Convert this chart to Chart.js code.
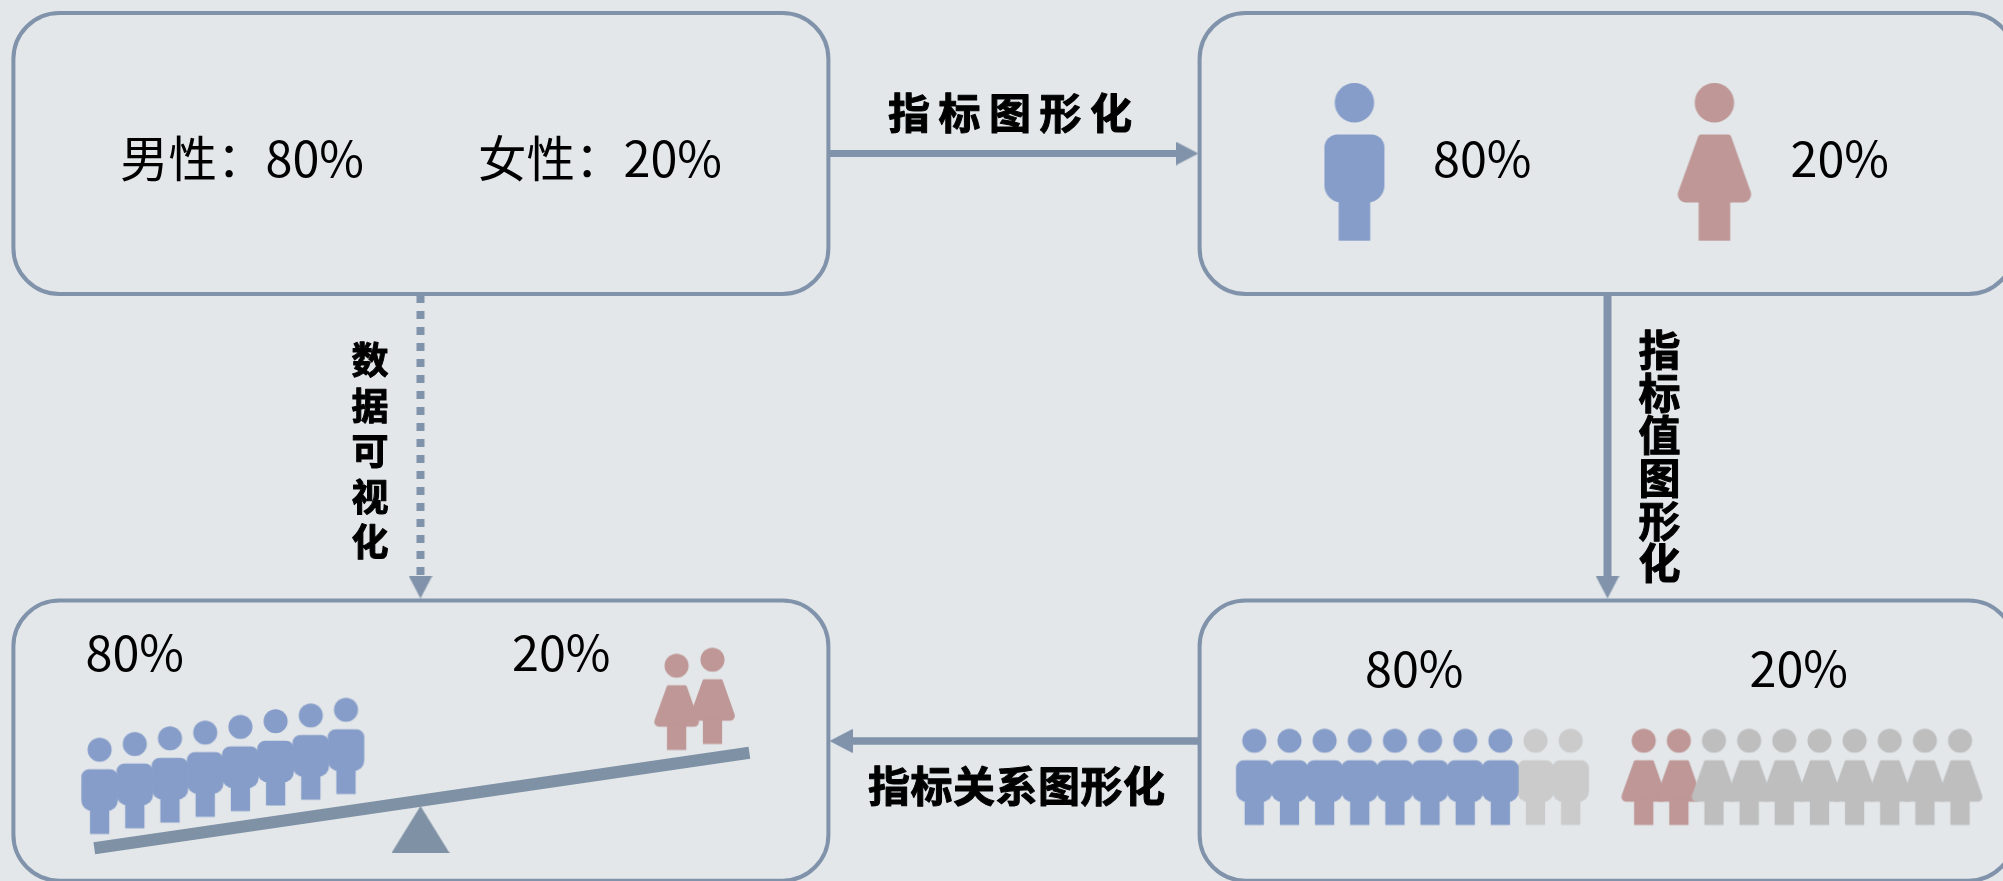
<!DOCTYPE html>
<html><head><meta charset="utf-8">
<style>html,body{margin:0;padding:0;background:#E3E7EA;overflow:hidden}#w{width:2003px;height:881px;position:relative}canvas{display:block}</style>
<script src="https://cdn.jsdelivr.net/npm/chart.js@4"></script>
</head><body><div id="w"><canvas id="c" width="2003" height="881"></canvas></div>
<script>
// ---- data ----
const genders = ['男性', '女性'];
const shares = [80, 20];
const percentPerIcon = 10;
const stepLabels = ['指标图形化', '指标值图形化', '指标关系图形化', '数据可视化'];

// ---- palette ----
const LINE = '#8093AA', BEAM = '#7F91A5', MAN = '#869DC9', WOMAN = '#BE9796',
      MAN_OFF = '#CBCBCB', WOMAN_OFF = '#BEBEBE';

// ---- icons ----
function rr(ctx, x, y, w, h, r) { ctx.beginPath(); ctx.roundRect(x, y, w, h, r); ctx.fill(); }
function figure(kind, color, s) {
  const W = kind === 'man' ? 60 : 80, H = 158;
  const c = document.createElement('canvas');
  c.width = Math.ceil(W * s) + 2; c.height = Math.ceil(H * s) + 2;
  const g = c.getContext('2d');
  g.translate(c.width / 2, c.height / 2); g.scale(s, s); g.translate(0, -79);
  g.fillStyle = color;
  g.beginPath(); g.arc(0, 19.7, 19.7, 0, Math.PI * 2); g.fill();
  if (kind === 'man') {
    rr(g, -30, 51.5, 60, 68, [13, 13, 17, 17]);
  } else {
    g.beginPath();
    g.moveTo(-15, 51.5);
    g.arcTo(16, 51.5, 39.5, 119.5, 3);
    g.arcTo(40, 119.5, -40, 119.5, 8);
    g.arcTo(-40, 119.5, -15.5, 51.5, 8);
    g.arcTo(-15.5, 51.5, 16, 51.5, 3);
    g.closePath(); g.fill();
  }
  g.fillRect(-15.8, 115, 31.6, 42.7);
  return c;
}
function head(len, wid, color) { // pointing right
  const c = document.createElement('canvas'); c.width = len; c.height = wid;
  const g = c.getContext('2d'); g.fillStyle = color;
  g.beginPath(); g.moveTo(0, 0); g.lineTo(len, wid / 2); g.lineTo(0, wid); g.closePath(); g.fill();
  return c;
}
function wedge(w, h, color) {
  const c = document.createElement('canvas'); c.width = w; c.height = h;
  const g = c.getContext('2d'); g.fillStyle = color;
  g.beginPath(); g.moveTo(w / 2, 0); g.lineTo(w, h); g.lineTo(0, h); g.closePath(); g.fill();
  return c;
}

// ---- layout (schematic coordinate space of the panel) ----
const PANELS = [[13.4, 13, 815, 281], [1199.6, 13, 815, 281], [13.4, 600.5, 815, 280.2], [1199.6, 600.5, 815, 280.2]];
const ROW = 35.15, SMALL = 0.61;
const menOn = shares[0] / percentPerIcon, womenOn = shares[1] / percentPerIcon, rowSize = 100 / percentPerIcon;

function row(x0, y, from, to) { const a = []; for (let i = from; i < to; i++) a.push({ x: x0 + i * ROW, y }); return a; }
function tilted(x0, y0, n, dx, dy) { const a = []; for (let i = 0; i < n; i++) a.push({ x: x0 + i * dx, y: y0 + i * dy }); return a; }

function icons(data, style, order) {
  return { type: 'scatter', data, pointStyle: style, pointRadius: 10, pointHoverRadius: 10, showLine: false, order: order, clip: false };
}
function link(a, b, width, dash, color) {
  return { type: 'line', data: [a, b], borderColor: color || LINE, borderWidth: width, borderDash: dash || [], pointRadius: 0, tension: 0, fill: false, order: 8, clip: false };
}
function arrow(p, rot) {
  return { type: 'scatter', data: [p], pointStyle: head(23, 24, LINE), pointRotation: rot, pointRadius: 10, showLine: false, order: 7, clip: false };
}

const datasets = [
  // connectors
  link({ x: 829, y: 153.5 }, { x: 1177, y: 153.5 }, 7),
  arrow({ x: 1187, y: 153.5 }, 0),
  link({ x: 1607.5, y: 295 }, { x: 1607.5, y: 577 }, 8),
  arrow({ x: 1607.5, y: 587 }, 90),
  link({ x: 1198, y: 741 }, { x: 852, y: 741 }, 7.5),
  arrow({ x: 841, y: 741 }, 180),
  link({ x: 420.5, y: 295 }, { x: 420.5, y: 577 }, 8, [8, 8]),
  arrow({ x: 420.5, y: 587 }, 90),
  // single large figures
  icons([{ x: 1354.4, y: 162 }], figure('man', MAN, 1), 5),
  icons([{ x: 1714.4, y: 162 }], figure('woman', WOMAN, 1), 5),
  // value row
  icons(row(1254.3, 777, 0, menOn), figure('man', MAN, SMALL), 4),
  icons(row(1254.3, 777, menOn, rowSize), figure('man', MAN_OFF, SMALL), 5),
  icons(row(1643.7, 777, womenOn, rowSize), figure('woman', WOMAN_OFF, SMALL), 4),
  icons(row(1643.7, 777, 0, womenOn), figure('woman', WOMAN, SMALL), 5),
  // seesaw
  link({ x: 94.3, y: 848.3 }, { x: 749.4, y: 752.7 }, 12, null, BEAM),
  { type: 'scatter', data: [{ x: 420.5, y: 829.5 }], pointStyle: wedge(58, 47, BEAM), pointRadius: 10, showLine: false, order: 6, clip: false },
  icons(tilted(99.6, 786, menOn, 35.2, -5.71), figure('man', MAN, SMALL), 5),
  icons(tilted(676.6, 702, womenOn, 35.9, -6), figure('woman', WOMAN, SMALL), 5)
];

const pct = i => shares[i] + '%';
const THIN = '400 48.5px "Noto Sans CJK SC", "Noto Sans"';
const flat = [
  [`${genders[0]}：${pct(0)}`, 120, 177], [`${genders[1]}：${pct(1)}`, 478, 177],
  [pct(0), 1433, 177], [pct(1), 1790.5, 177],
  [pct(0), 85.5, 670.7], [pct(1), 512, 670.7],
  [pct(0), 1365, 686.7], [pct(1), 1749.5, 686.7]
];

const diagram = {
  id: 'diagram',
  beforeDatasetsDraw(chart) {
    const { ctx, scales: { x, y } } = chart;
    ctx.save();
    ctx.strokeStyle = LINE; ctx.lineWidth = 4;
    PANELS.forEach(p => {
      const l = x.getPixelForValue(p[0]), t = y.getPixelForValue(p[1]);
      const r = x.getPixelForValue(p[0] + p[2]), b = y.getPixelForValue(p[1] + p[3]);
      ctx.beginPath(); ctx.roundRect(l, t, r - l, b - t, 46); ctx.stroke();
    });
    ctx.restore();
  },
  afterDatasetsDraw(chart) {
    const { ctx, scales: { x, y } } = chart;
    ctx.save();
    ctx.fillStyle = '#000';
    ctx.textBaseline = 'alphabetic'; ctx.textAlign = 'left';
    ctx.font = THIN;
    flat.forEach(t => ctx.fillText(t[0], x.getPixelForValue(t[1]), y.getPixelForValue(t[2])));
    ctx.textAlign = 'center'; ctx.textBaseline = 'middle';
    ctx.strokeStyle = '#000'; ctx.lineWidth = 1; ctx.lineJoin = 'round';
    const spread = (s, cx, cy, dx, dy) => [...s].forEach((ch, i) => {
      const px = x.getPixelForValue(cx + i * dx), py = y.getPixelForValue(cy + i * dy);
      ctx.fillText(ch, px, py); ctx.strokeText(ch, px, py);
    });
    ctx.font = '700 42px "Noto Sans CJK SC", "Noto Sans"';
    spread(stepLabels[0], 909, 113, 50.5, 0);
    spread(stepLabels[1], 1659.5, 350, 0, 42.7);
    spread(stepLabels[2], 889, 786, 42.5, 0);
    ctx.font = '700 37px "Noto Sans CJK SC", "Noto Sans"';
    spread(stepLabels[3], 370, 360, 0, 45.5);
    ctx.restore();
  }
};

new Chart(document.getElementById('c'), {
  data: { datasets },
  plugins: [diagram],
  options: {
    responsive: false, animation: false, events: [],
    layout: { padding: 0, autoPadding: false },
    plugins: { legend: { display: false }, tooltip: { enabled: false }, title: { display: false } },
    scales: {
      x: { type: 'linear', min: 0, max: 2003, display: false },
      y: { type: 'linear', min: 0, max: 881, reverse: true, display: false }
    }
  }
});
</script></body></html>
